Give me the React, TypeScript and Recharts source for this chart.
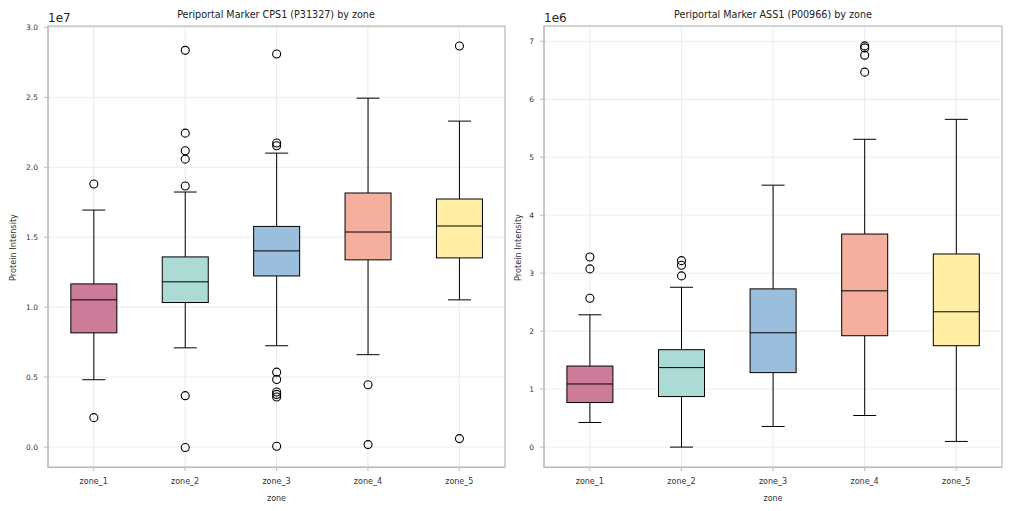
import { ComposedChart, Bar, XAxis, YAxis, CartesianGrid } from "recharts";

const ZONES = ["zone_1", "zone_2", "zone_3", "zone_4", "zone_5"];
const BOX_COLORS = ["#cc7b98", "#acdad4", "#9abedb", "#f4af9e", "#ffeea4"];

// CPS1, values in units of 1e7
const cpsLow = [0.481, 0.709, 0.724, 0.66, 1.052];
const cpsQ1 = [0.816, 1.033, 1.223, 1.338, 1.352];
const cpsMedian = [1.052, 1.181, 1.402, 1.537, 1.58];
const cpsQ3 = [1.166, 1.359, 1.577, 1.816, 1.773];
const cpsHigh = [1.694, 1.823, 2.101, 2.494, 2.33];
const cpsOutliers = [
  [1.88, 0.21],
  [2.836, 2.244, 2.118, 2.058, 1.866, 0.367, -0.004],
  [2.81, 2.173, 2.154, 0.535, 0.483, 0.393, 0.376, 0.357, 0.005],
  [0.445, 0.017],
  [2.867, 0.06],
];
const cpsTicks = [0, 0.5, 1.0, 1.5, 2.0, 2.5, 3.0];

// ASS1, values in units of 1e6
const assLow = [0.425, 0.0, 0.356, 0.545, 0.098];
const assQ1 = [0.769, 0.872, 1.285, 1.921, 1.749];
const assMedian = [1.089, 1.371, 1.972, 2.695, 2.334];
const assQ3 = [1.398, 1.68, 2.729, 3.675, 3.331];
const assHigh = [2.282, 2.757, 4.518, 5.309, 5.653];
const assOutliers = [
  [3.28, 3.074, 2.568],
  [3.216, 3.136, 2.953],
  [],
  [6.92, 6.885, 6.76, 6.467],
  [],
];
const assTicks = [0, 1, 2, 3, 4, 5, 6, 7];

const FONT = "DejaVu Sans";
const GRID = "#ebebeb";
const SPINE = "#bdbdbd";

function buildRows(lo: number[], q1: number[], med: number[], q3: number[], hi: number[], out: number[][]) {
  return ZONES.map((zone, i) => ({
    zone,
    lo: lo[i],
    q1: q1[i],
    med: med[i],
    q3: q3[i],
    hi: hi[i],
    outliers: out[i],
    color: BOX_COLORS[i],
  }));
}

const cpsRows = buildRows(cpsLow, cpsQ1, cpsMedian, cpsQ3, cpsHigh, cpsOutliers);
const assRows = buildRows(assLow, assQ1, assMedian, assQ3, assHigh, assOutliers);

function BoxShape(props: any) {
  const { x, y, width, height, payload } = props;
  const r = payload;
  const top = Math.min(y, y + height);
  const bot = Math.max(y, y + height);
  const span = r.hi - r.lo;
  const py = (v: number) => top + ((r.hi - v) / span) * (bot - top);
  const cx = x + width / 2;
  const cap = width / 4;
  return (
    <g>
      <line x1={cx} x2={cx} y1={py(r.hi)} y2={py(r.q3)} stroke="#000" strokeWidth={1} />
      <line x1={cx} x2={cx} y1={py(r.q1)} y2={py(r.lo)} stroke="#000" strokeWidth={1} />
      <line x1={cx - cap} x2={cx + cap} y1={py(r.hi)} y2={py(r.hi)} stroke="#000" strokeWidth={1} />
      <line x1={cx - cap} x2={cx + cap} y1={py(r.lo)} y2={py(r.lo)} stroke="#000" strokeWidth={1} />
      <rect x={x} y={py(r.q3)} width={width} height={py(r.q1) - py(r.q3)} fill={r.color} stroke="#000" strokeWidth={1} />
      <line x1={x} x2={x + width} y1={py(r.med)} y2={py(r.med)} stroke="#000" strokeWidth={1} />
      {r.outliers.map((v: number, k: number) => (
        <circle key={k} cx={cx} cy={py(v)} r={4} fill="none" stroke="#000" strokeWidth={1.1} />
      ))}
    </g>
  );
}

function BoxPanel({ rows, ticks, domain, fmt, width, yWidth, right }: any) {
  return (
    <ComposedChart
      width={width}
      height={511}
      data={rows}
      margin={{ top: 26, right, bottom: 0, left: 0 }}
      barCategoryGap="25%"
    >
      <CartesianGrid stroke={GRID} strokeWidth={1} />
      <XAxis
        dataKey="zone"
        height={44}
        axisLine={{ stroke: SPINE, strokeWidth: 1.2 }}
        tickLine={{ stroke: SPINE }}
        tickSize={4}
        tickMargin={7.5}
        tick={{ fontSize: 8, fontFamily: FONT, fill: "#333" }}
        interval={0}
        label={{ value: "zone", position: "insideBottom", offset: 10.5, fontSize: 8, fontFamily: FONT, fill: "#333" }}
      />
      <YAxis
        type="number"
        domain={domain}
        ticks={ticks}
        width={yWidth}
        allowDataOverflow
        axisLine={{ stroke: SPINE, strokeWidth: 1.2 }}
        tickLine={{ stroke: SPINE }}
        tickSize={4}
        tickMargin={6}
        tickFormatter={fmt}
        tick={{ fontSize: 7.5, fontFamily: FONT, fill: "#333" }}
      />
      <Bar dataKey={(d: any) => [d.lo, d.hi]} shape={BoxShape} isAnimationActive={false} />
    </ComposedChart>
  );
}

export default function App() {
  return (
    <div style={{ position: "absolute", left: 0, top: 0, width: 1011, height: 511, background: "#fff" }}>
      <div style={{ position: "absolute", left: 0, top: 0 }}>
        <BoxPanel
          rows={cpsRows}
          ticks={cpsTicks}
          domain={[-0.143, 3.01]}
          fmt={(v: number) => v.toFixed(1)}
          width={512}
          yWidth={48}
          right={7}
        />
      </div>
      <div style={{ position: "absolute", left: 505, top: 0 }}>
        <BoxPanel
          rows={assRows}
          ticks={assTicks}
          domain={[-0.343, 7.263]}
          fmt={(v: number) => String(v)}
          width={506}
          yWidth={39}
          right={9}
        />
      </div>
      <svg
        width={1011}
        height={511}
        style={{ position: "absolute", left: 0, top: 0, pointerEvents: "none" }}
        fontFamily={FONT}
      >
        <rect x={48} y={26} width={457} height={441.5} fill="none" stroke={SPINE} strokeWidth={1.2} />
        <rect x={544} y={26} width={458} height={441.5} fill="none" stroke={SPINE} strokeWidth={1.2} />
        <text x={276} y={18} textAnchor="middle" fontSize={9.6} fill="#222">
          Periportal Marker CPS1 (P31327) by zone
        </text>
        <text x={773} y={18} textAnchor="middle" fontSize={9.6} fill="#222">
          Periportal Marker ASS1 (P00966) by zone
        </text>
        <text x={48} y={22} fontSize={12} fill="#222">1e7</text>
        <text x={544} y={22} fontSize={12} fill="#222">1e6</text>
        <text x={16} y={247.5} textAnchor="middle" fontSize={8.2} fill="#333" transform="rotate(-90 16 247.5)">
          Protein Intensity
        </text>
        <text x={520.5} y={247.5} textAnchor="middle" fontSize={8.2} fill="#333" transform="rotate(-90 520.5 247.5)">
          Protein Intensity
        </text>
      </svg>
    </div>
  );
}
